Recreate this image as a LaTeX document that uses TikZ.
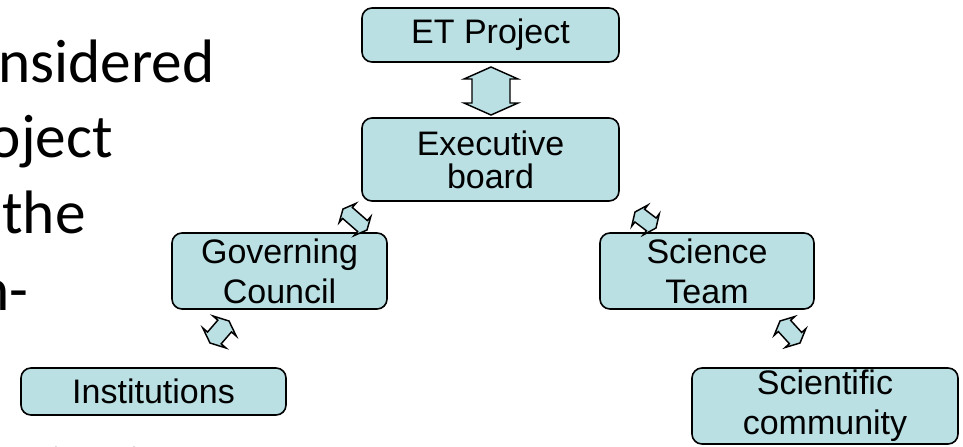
\documentclass[tikz,border=0pt]{standalone}
\usepackage{fontspec}
\setmainfont{Liberation Sans}
\newfontfamily\slidefont{Carlito}
\usetikzlibrary{calc}

\definecolor{boxfill}{RGB}{186,224,228}

\tikzset{
  orgbox/.style={draw=black, line width=1.2pt, fill=boxfill, rounded corners=7.5pt,
    align=center, inner sep=0pt, font=\fontsize{25.5}{30}\selectfont},
  arrowbody/.style={draw=black, line width=1.1pt, fill=boxfill, line join=miter},
  slidetext/.style={anchor=base east, inner sep=0pt,
    font=\slidefont\fontsize{46}{55}\selectfont},
}

% Double-headed block arrow between two named tips:
% #1,#2 tips, #3 head half-width, #4 shaft half-width, #5 head length
\newcommand\orgarrow[5]{%
  \coordinate (ba1) at ($(#1)!#5!(#2)$);
  \coordinate (ba2) at ($(#2)!#5!(#1)$);
  \draw[arrowbody] (#1)
    -- ($(ba1)!#3!90:(#2)$) -- ($(ba1)!#4!90:(#2)$)
    -- ($(ba2)!#4!-90:(#1)$) -- ($(ba2)!#3!-90:(#1)$)
    -- (#2)
    -- ($(ba2)!#3!90:(#1)$) -- ($(ba2)!#4!90:(#1)$)
    -- ($(ba1)!#4!-90:(#2)$) -- ($(ba1)!#3!-90:(#2)$)
    -- cycle;}

\begin{document}
\begin{tikzpicture}[x=0.75pt, y=-0.75pt]
  \path[use as bounding box] (0,0) rectangle (963,446);
  \clip (0,0) rectangle (963,446);
  \fill[white] (0,0) rectangle (963,446);

  % slide body text running off the left edge
  \node[slidetext] (t1) at (215,82) {considered};
  \node[slidetext] (t2) at (113,157) {project};
  \node[slidetext] (t3) at (86,233) {the};
  \node[slidetext] (t4) at (29,310) {n-};
  \node[slidetext, anchor=base] (t5) at (57,489) {i};
  \node[slidetext, anchor=base] (t6) at (135,489) {i};

  % organisation boxes
  \node[orgbox, minimum width=192.75pt, minimum height=40.5pt] (et) at (490.5,35) {ET Project};
  \node[orgbox, minimum width=192.75pt, minimum height=62.25pt,
        font=\fontsize{25.5}{24.75}\selectfont] (eb) at (490.5,159.5) {Executive\\board};
  \node[orgbox, minimum width=161.25pt, minimum height=57pt] (gc) at (279.5,271) {Governing\\Council};
  \node[orgbox, minimum width=160.5pt, minimum height=57pt] (st) at (707,271) {Science\\Team};
  \node[orgbox, minimum width=198.75pt, minimum height=35.25pt] (in) at (153.5,391.5) {Institutions};
  \node[orgbox, minimum width=199.5pt, minimum height=57pt] (sc) at (825,406) {Scientific\\community};

  % arrow tips
  \coordinate (a1s) at (491,67);  \coordinate (a1e) at (491,115);
  \coordinate (a2s) at (343,209); \coordinate (a2e) at (367,230);
  \coordinate (a3s) at (229,321); \coordinate (a3e) at (210,343);
  \coordinate (a4s) at (635,212); \coordinate (a4e) at (656,228);
  \coordinate (a5s) at (780,321); \coordinate (a5e) at (800,343);

  \orgarrow{a1s}{a1e}{20.25pt}{14.25pt}{9pt}
  \orgarrow{a2s}{a2e}{9.5pt}{5.5pt}{4.5pt}
  \orgarrow{a3s}{a3e}{11.5pt}{6.75pt}{5pt}
  \orgarrow{a4s}{a4e}{10pt}{6pt}{4.5pt}
  \orgarrow{a5s}{a5e}{10.5pt}{6.25pt}{5pt}
\end{tikzpicture}
\end{document}
